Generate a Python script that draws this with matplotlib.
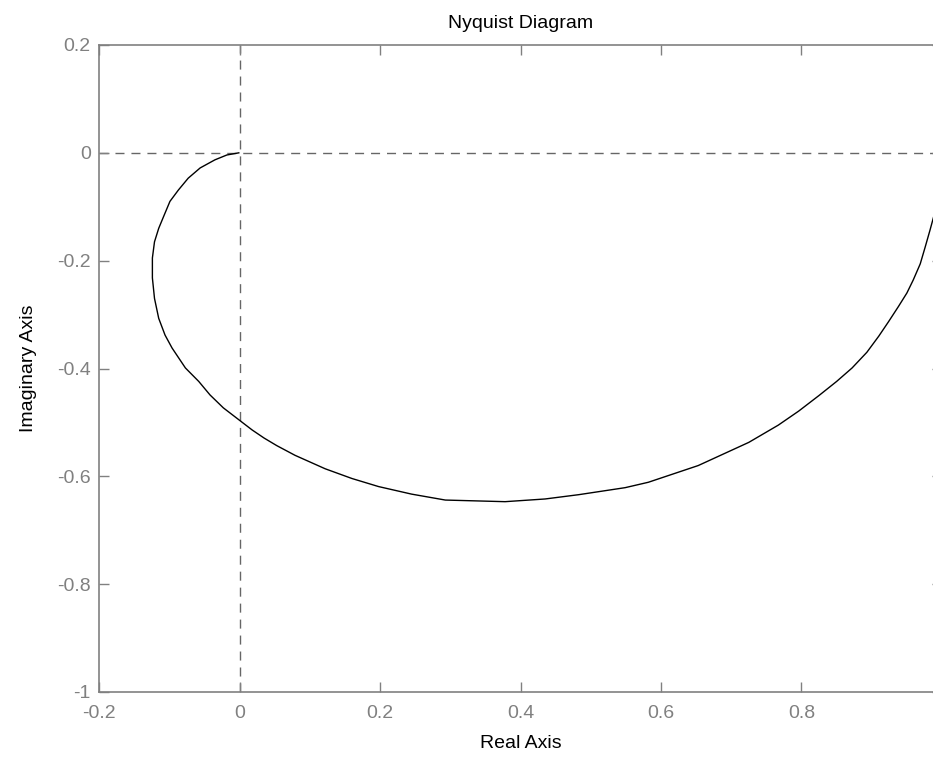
import numpy as np
import matplotlib
matplotlib.use("Agg")
import matplotlib.pyplot as plt

# Nyquist curve points (real, imaginary), from w = inf back towards w = 0
re_part = [-0.001, -0.018, -0.035, -0.056, -0.073, -0.087, -0.099, -0.108, -0.115,
           -0.121, -0.124, -0.124, -0.121, -0.115, -0.106, -0.096, -0.077, -0.058,
           -0.042, -0.023, -0.001, 0.018, 0.035, 0.053, 0.079, 0.122, 0.160,
           0.198, 0.245, 0.293, 0.378, 0.435, 0.483, 0.549, 0.582, 0.653,
           0.725, 0.767, 0.796, 0.825, 0.850, 0.872, 0.893, 0.910, 0.924,
           0.938, 0.950, 0.959, 0.969, 0.976, 0.983, 0.992]
im_part = [0.0, -0.004, -0.013, -0.028, -0.047, -0.069, -0.090, -0.118, -0.140,
           -0.165, -0.195, -0.232, -0.270, -0.307, -0.338, -0.362, -0.399, -0.424,
           -0.449, -0.473, -0.495, -0.514, -0.529, -0.543, -0.561, -0.586, -0.604,
           -0.619, -0.633, -0.644, -0.647, -0.642, -0.634, -0.621, -0.611, -0.580,
           -0.537, -0.505, -0.479, -0.450, -0.424, -0.399, -0.370, -0.340, -0.313,
           -0.285, -0.260, -0.236, -0.206, -0.175, -0.143, -0.100]

x_ticks = [-0.2, 0, 0.2, 0.4, 0.6, 0.8, 1.0]
y_ticks = [-1, -0.8, -0.6, -0.4, -0.2, 0, 0.2]

plt.rcParams['font.family'] = ['Liberation Sans', 'DejaVu Sans']
plt.rcParams['lines.scale_dashes'] = False

fig = plt.figure(figsize=(9.33, 7.6), dpi=100)
ax = fig.add_axes([99 / 933, 1 - 692 / 760, 843 / 933, 647 / 760])

grey = '#808080'
ax.axhline(0, color='0.4', lw=1.0, ls=(0, (6.5, 5)), zorder=1)
ax.axvline(0, color='0.4', lw=1.0, ls=(0, (6.5, 5)), zorder=1)
ax.plot(re_part, im_part, color='black', lw=1.0, zorder=2)

ax.set_xlim(-0.2, 1.0)
ax.set_ylim(-1, 0.2)
ax.set_xticks(x_ticks)
ax.set_yticks(y_ticks)
# the label at 1 falls off the right edge of the figure, leave it blank
ax.set_xticklabels(['-0.2', '0', '0.2', '0.4', '0.6', '0.8', ''])
ax.set_yticklabels(['-1', '-0.8', '-0.6', '-0.4', '-0.2', '0', '0.2'])

for s in ax.spines.values():
    s.set_color(grey)
    s.set_linewidth(1.2)
ax.tick_params(direction='in', length=7, width=1, color=grey, labelcolor=grey,
               labelsize=14, top=True, right=True)
ax.tick_params(axis='x', pad=9)
ax.tick_params(axis='y', pad=6)

ax.set_title('Nyquist Diagram', fontsize=14, pad=12)
ax.set_xlabel('Real Axis', fontsize=14, labelpad=10)
ax.set_ylabel('Imaginary Axis', fontsize=14, labelpad=14)

fig.savefig('out.png', dpi=100)
